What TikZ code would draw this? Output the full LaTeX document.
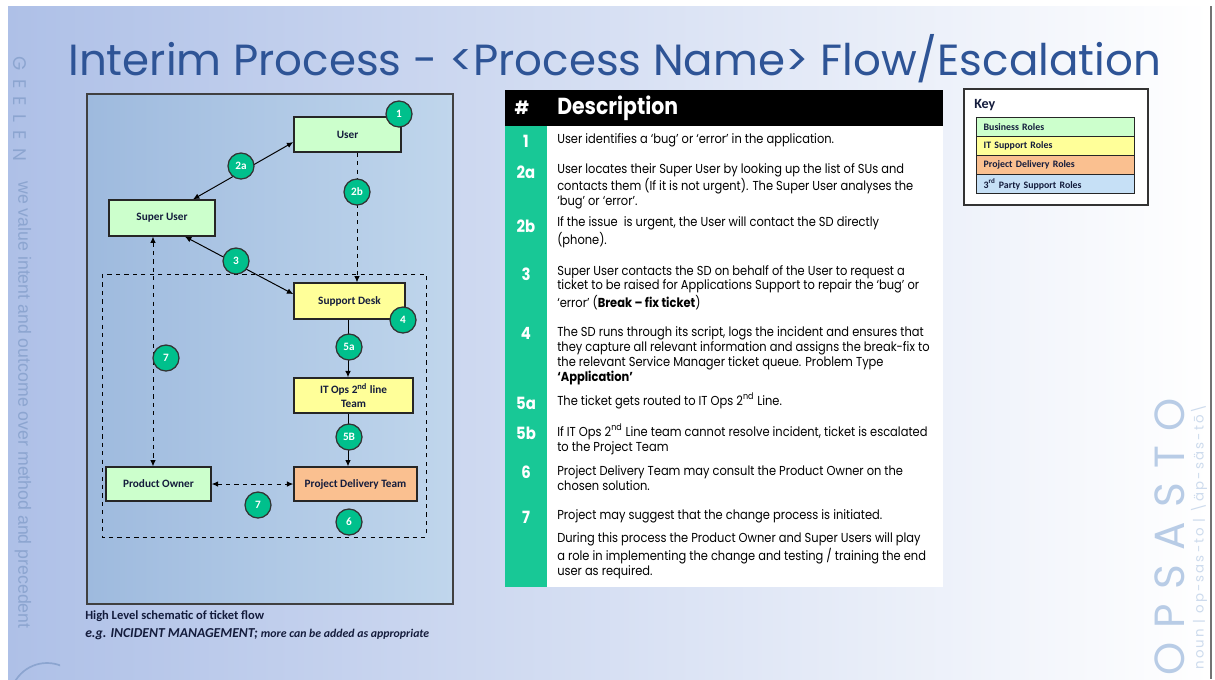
\documentclass[tikz,border=0pt]{standalone}
\usepackage{fontspec}
\setmainfont{Carlito}
\newfontfamily\titlefont{Poppins}
\newfontfamily\descfont[FakeStretch=0.88]{Poppins}
\newfontfamily\sidefont{Liberation Sans}
\usetikzlibrary{arrows.meta, calc}

\definecolor{slideblue}{RGB}{174,192,231}
\definecolor{slidemid}{RGB}{204,217,240}
\definecolor{titleblue}{RGB}{46,84,150}
\definecolor{boxleft}{RGB}{158,186,222}
\definecolor{boxright}{RGB}{192,214,236}
\definecolor{bizgreen}{RGB}{204,255,204}
\definecolor{ityellow}{RGB}{255,255,153}
\definecolor{projorange}{RGB}{250,192,144}
\definecolor{partyblue}{RGB}{198,224,246}
\definecolor{stepgreen}{RGB}{0,192,140}
\definecolor{tablegreen}{RGB}{24,200,150}
\definecolor{sideblue}{RGB}{140,165,208}
\definecolor{opsblue}{RGB}{184,204,230}
\definecolor{navy}{RGB}{20,28,60}

\begin{document}
\begin{tikzpicture}[x=0.025cm, y=-0.025cm,
    >={Latex[length=4.5pt,width=4pt]},
    role/.style={draw=black!85, line width=0.9pt, align=center, inner sep=0,
      font=\bfseries\fontsize{8}{9.5}\selectfont, text=navy},
    stepnum/.style={circle, draw=black!80, line width=0.9pt, fill=stepgreen,
      text=white, minimum size=0.65cm, inner sep=0,
      font=\bfseries\fontsize{8}{9}\selectfont},
    flow/.style={line width=0.7pt},
    % multi-line nodes: base = baseline of the last line
    desc/.style={anchor=base west, align=left, inner sep=0,
      font=\descfont\fontsize{9.25}{10.6}\selectfont},
    rownum/.style={text=white, inner sep=0,
      font=\descfont\bfseries\fontsize{12}{12}\selectfont},
    keyrow/.style={draw=black!85, line width=1pt, anchor=north west,
      text width=3.6cm, inner xsep=0.175cm, inner ysep=0, minimum height=0.475cm,
      align=left, text=navy, font=\bfseries\fontsize{7}{8}\selectfont}]
  \useasboundingbox (0,0) rectangle (1215,679);

  % Slide background
  \fill[white] (0,0) rectangle (1215,679);
  \shade[left color=slideblue, middle color=slidemid, right color=white] (8,6) rectangle (1210,679);
  \draw[black!55, line width=1.5pt] (1211,6) -- (1211,679);

  % Side texts
  \node[rotate=-90, text=sideblue, font=\titlefont\addfontfeature{LetterSpace=45}\fontsize{13}{13}\selectfont] (brand) at (20,109) {GEELEN};
  \node[rotate=-90, text=sideblue, font=\sidefont\fontsize{12.6}{13}\selectfont] (motto) at (23,405) {we value intent and outcome over method and precedent};
  \begin{scope}
    \clip (0,600) rectangle (60,679);
    \draw[sideblue, line width=1.2pt] (47,700) circle (37);
  \end{scope}
  \node[rotate=90, text=opsblue, font=\titlefont\addfontfeature{LetterSpace=34}\fontsize{30}{30}\selectfont] (opsasto) at (1170,537) {OPSASTO};
  \node[rotate=90, text=opsblue!70, font=\titlefont\addfontfeature{LetterSpace=16}\fontsize{9.5}{10}\selectfont] (noun) at (1199,537) {noun | op-sas-to | \textbackslash äp-säs-tō\textbackslash};

  % Title
  \node[anchor=base west, inner sep=0, text=titleblue, font=\titlefont\fontsize{31}{36}\selectfont] (title) at (68,75) {Interim Process - <Process Name> Flow/Escalation};

  % Schematic frame
  \draw[line width=1.2pt, draw=black!75, left color=boxleft, right color=boxright] (87,94) rectangle (453,604);
  \draw[flow, dashed] (102,274) rectangle (426,537);

  % Roles
  \node[role, fill=bizgreen, minimum width=2.68cm, minimum height=0.88cm] (user) at (347.5,134.5) {User};
  \node[role, fill=bizgreen, minimum width=2.65cm, minimum height=0.9cm] (superuser) at (162,218) {Super User};
  \node[role, fill=ityellow, minimum width=2.78cm, minimum height=0.9cm] (supportdesk) at (349.5,301) {Support Desk};
  \node[role, fill=ityellow, minimum width=2.98cm, minimum height=0.88cm] (itops) at (353.5,395.5) {IT Ops 2\textsuperscript{nd} line\\Team};
  \node[role, fill=projorange, minimum width=3.08cm, minimum height=0.85cm] (delivery) at (355.5,484) {Project Delivery Team};
  \node[role, fill=bizgreen, minimum width=2.63cm, minimum height=0.85cm] (owner) at (158.5,484) {Product Owner};

  % Lanes for the vertical connectors
  \coordinate (lane2b) at (357,0);
  \coordinate (lane5) at (348,0);
  \coordinate (lane7) at (153,0);

  % Connectors
  \draw[flow, <->] (superuser.31) -- (user.188);
  \draw[flow, dashed, ->] (user.south -| lane2b) -- (supportdesk.north -| lane2b);
  \draw[flow, <->] (superuser.-39) -- (supportdesk.173);
  \draw[flow, ->] (supportdesk.south -| lane5) -- (itops.north -| lane5);
  \draw[flow, ->] (itops.south -| lane5) -- (delivery.north -| lane5);
  \draw[flow, dashed, <->] (owner.east) -- (delivery.west);
  \draw[flow, dashed, <->] (superuser.south -| lane7) -- (owner.north -| lane7);

  % Step markers
  \node[stepnum] (s1) at (399,114) {1};
  \node[stepnum] (s2a) at (241,166) {2a};
  \node[stepnum] (s2b) at (357,192) {2b};
  \node[stepnum] (s3) at (236,261) {3};
  \node[stepnum] (s4) at (403,320) {4};
  \node[stepnum] (s5a) at (349,347) {5a};
  \node[stepnum] (s5b) at (349,437) {5B};
  \node[stepnum] (s6) at (349,522) {6};
  \node[stepnum] (s7a) at (166,358) {7};
  \node[stepnum] (s7b) at (258,505) {7};

  % Caption
  \node[anchor=base west, inner sep=0, text=navy, font=\bfseries\fontsize{8.9}{10}\selectfont] (caption) at (85,619) {High Level schematic of ticket flow};
  \node[anchor=base west, inner sep=0, text=navy, font=\bfseries\itshape] (example) at (85,637) {\fontsize{9.7}{11}\selectfont e.g. INCIDENT MANAGEMENT; \fontsize{8.4}{9}\selectfont more can be added as appropriate};

  % Description table
  \fill[black] (505,90) rectangle (943,126);
  \fill[white] (547,126) rectangle (943,587);
  \fill[tablegreen] (505,126) rectangle (547,587);
  \node[rownum, font=\descfont\bfseries\fontsize{13}{13}\selectfont] (hash) at (522,108) {\#};
  \node[anchor=west, inner sep=0, text=white, font=\descfont\bfseries\fontsize{16.5}{17}\selectfont] (header) at (557,108) {Description};

  \node[rownum] (n1) at (526,141) {1};
  \node[desc] (d1) at (557,143) {User identifies a ‘bug’ or ‘error’ in the application.};
  \node[rownum] (n2a) at (526,172) {2a};
  \node[desc] (d2a) at (557,205) {User locates their Super User by looking up the list of SUs and\\contacts them (If it is not urgent). The Super User analyses the\\‘bug’ or ‘error’.};
  \node[rownum] (n2b) at (526,226) {2b};
  \node[desc] (d2b) at (557,244) {If the issue\ \ is urgent, the User will contact the SD directly\\(phone).};
  \node[rownum] (n3) at (526,274) {3};
  \node[desc] (d3) at (557,307) {Super User contacts the SD on behalf of the User to request a\\ticket to be raised for Applications Support to repair the ‘bug’ or\\‘error’ (\textbf{Break – fix ticket})};
  \node[rownum] (n4) at (526,333) {4};
  \node[desc] (d4) at (557,381) {The SD runs through its script, logs the incident and ensures that\\they capture all relevant information and assigns the break-fix to\\the relevant Service Manager ticket queue. Problem Type\\\textbf{‘Application’}};
  \node[rownum] (n5a) at (526,403) {5a};
  \node[desc] (d5a) at (557,405) {The ticket gets routed to IT Ops 2\textsuperscript{nd} Line.};
  \node[rownum] (n5b) at (526,433) {5b};
  \node[desc] (d5b) at (557,451) {If IT Ops 2\textsuperscript{nd} Line team cannot resolve incident, ticket is escalated\\to the Project Team};
  \node[rownum] (n6) at (526,472) {6};
  \node[desc] (d6) at (557,490) {Project Delivery Team may consult the Product Owner on the\\chosen solution.};
  \node[rownum] (n7) at (526,517) {7};
  \node[desc] (d7) at (557,519) {Project may suggest that the change process is initiated.};
  \node[desc] (d7b) at (557,575) {During this process the Product Owner and Super Users will play\\a role in implementing the change and testing / training the end\\user as required.};

  % Key
  \draw[black!80, line width=1pt, fill=white] (964,89) rectangle (1148,205);
  \node[anchor=base west, inner sep=0, text=navy, font=\bfseries\fontsize{10}{12}\selectfont] (keytitle) at (974,108) {Key};
  \node[keyrow, fill=bizgreen] (kbiz) at (976,117) {Business Roles};
  \node[keyrow, fill=ityellow] (kit) at (976,136) {IT Support Roles};
  \node[keyrow, fill=projorange] (kproj) at (976,155) {Project Delivery Roles};
  \node[keyrow, fill=partyblue] (kparty) at (976,174) {3\textsuperscript{rd} Party Support Roles};
\end{tikzpicture}
\end{document}
